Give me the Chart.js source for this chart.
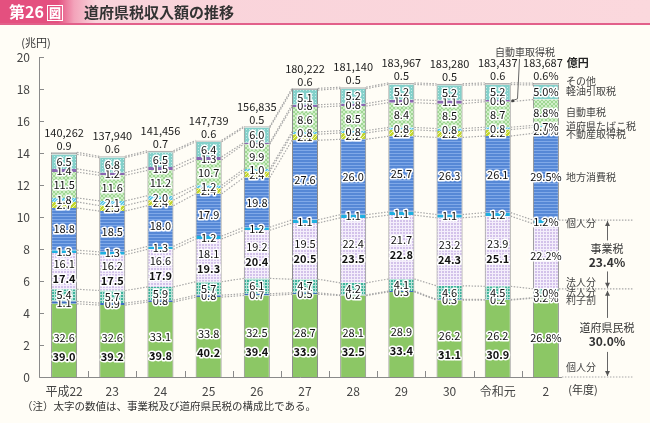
<!DOCTYPE html>
<html>
<head>
<meta charset="utf-8">
<script src="https://cdn.jsdelivr.net/npm/chart.js@4/dist/chart.umd.min.js"></script>
<style>
  html, body { margin: 0; padding: 0; background: #fffdf6; }
  body { width: 650px; height: 423px; position: relative; overflow: hidden; font-family: "Noto Sans CJK JP", sans-serif; }
  #hdr { position: absolute; left: 0; top: 0; width: 650px; height: 23px; z-index: 2;
    background: linear-gradient(to right, #e4507f 0, #e4507f 58px, #f3a3ba 74px, #f9d3da 96px, #fbd8dd 100%);
    border-bottom: 2px solid #e2608a; }
  #fig { position: absolute; left: 9px; top: 0; line-height: 23px; color: #fff; font-weight: bold; font-size: 16px; }
  #fig b { border: 1px solid #fff; padding: 0 1px; font-size: 12px; margin-left: 3px; line-height: 14px; display: inline-block; }
  #ttl { position: absolute; left: 84px; top: 0; line-height: 23px; color: #333; font-weight: bold; font-size: 15px; }
  #wrap { position: absolute; left: 0; top: 0; width: 650px; height: 423px; }
</style>
</head>
<body>
<div id="hdr"><span id="fig">第26<b>図</b></span><span id="ttl">道府県税収入額の推移</span></div>
<div id="wrap"><canvas id="c" width="650" height="423"></canvas></div>
<script>
// 年度と歳入総額（億円）
const years = ['平成22', '23', '24', '25', '26', '27', '28', '29', '30', '令和元', '2'];
const totals = [140262, 137940, 141456, 147739, 156835, 180222, 181140, 183967, 183280, 183437, 183687];

// 構成比（％）下から順に
const kenminKojin = [32.6, 32.6, 33.1, 33.8, 32.5, 28.7, 28.1, 28.9, 26.2, 26.2, 26.8];
const rishiwari = [1.1, 0.9, 0.8, 0.8, 0.7, 0.5, 0.2, 0.3, 0.3, 0.2, 0.2];
const kenminHojin = [5.4, 5.7, 5.9, 5.7, 6.1, 4.7, 4.2, 4.1, 4.6, 4.5, 3.0];
const jigyoHojin = [16.1, 16.2, 16.6, 18.1, 19.2, 19.5, 22.4, 21.7, 23.2, 23.9, 22.2];
const jigyoKojin = [1.3, 1.3, 1.3, 1.2, 1.2, 1.1, 1.1, 1.1, 1.1, 1.2, 1.2];
const chihoShohi = [18.8, 18.5, 18.0, 17.9, 19.8, 27.6, 26.0, 25.7, 26.3, 26.1, 29.5];
const fudosan = [2.7, 2.5, 2.4, 2.4, 2.4, 2.1, 2.2, 2.2, 2.2, 2.2, 2.0];
const tabako = [1.8, 2.1, 2.0, 1.2, 1.0, 0.8, 0.8, 0.8, 0.8, 0.8, 0.7];
const jidoshaZei = [11.5, 11.6, 11.2, 10.7, 9.9, 8.6, 8.5, 8.4, 8.5, 8.7, 8.8];
const jidoshaShutoku = [1.4, 1.2, 1.5, 1.3, 0.6, 0.8, 0.8, 1.0, 1.1, 0.6, null];
const keiyu = [6.5, 6.8, 6.5, 6.4, 6.0, 5.1, 5.2, 5.2, 5.2, 5.2, 5.0];
const sonota = [0.9, 0.6, 0.7, 0.6, 0.5, 0.6, 0.5, 0.5, 0.5, 0.6, 0.6];

// 太字（道府県民税・事業税の構成比）
const kenminTotal = [39.0, 39.2, 39.8, 40.2, 39.4, 33.9, 32.5, 33.4, 31.1, 30.9, 30.0];
const jigyoTotal = [17.4, 17.5, 17.9, 19.3, 20.4, 20.5, 23.5, 22.8, 24.3, 25.1, 23.4];

const yTicks = [0, 2, 4, 6, 8, 10, 12, 14, 16, 18, 20];

const FONT = '"Noto Sans CJK JP", sans-serif';
const last = years.length - 1;

// 構成比 → 兆円
const toCho = arr => arr.map((p, i) => p == null ? null : p * totals[i] / 1e6);

function pat(bg, fg, size, draw) {
  const c = document.createElement('canvas');
  c.width = c.height = size;
  const g = c.getContext('2d');
  g.fillStyle = bg; g.fillRect(0, 0, size, size);
  g.fillStyle = fg; g.strokeStyle = fg; g.lineWidth = 1;
  draw(g, size);
  return g.createPattern(c, 'repeat');
}
const hLines = (g, s) => g.fillRect(0, 0, s, 1);
const grid = (g, s) => { g.fillRect(0, 0, s, 1); g.fillRect(0, 0, 1, s); };
const diag = (g, s) => { for (let k = 0; k < s; k++) g.fillRect(k, s - 1 - k, 1, 1); };
const cross = (g, s) => { for (let k = 0; k < s; k++) { g.fillRect(k, k, 1, 1); g.fillRect(k, s - 1 - k, 1, 1); } };
const dots = (g, s) => g.fillRect(0, 0, 1, 1);

const series = [
  { label: '道府県民税 個人分', data: kenminKojin, bg: '#8cc765' },
  { label: '利子割', data: rishiwari, bg: '#3b6fc0' },
  { label: '道府県民税 法人分', data: kenminHojin, bg: pat('#3fb29b', '#b8e5d9', 3, grid) },
  { label: '事業税 法人分', data: jigyoHojin, bg: pat('#d3c2ea', '#f4eefb', 3, grid) },
  { label: '事業税 個人分', data: jigyoKojin, bg: '#1eafe0' },
  { label: '地方消費税', data: chihoShohi, bg: pat('#5688d6', '#80a9e8', 3, hLines) },
  { label: '不動産取得税', data: fudosan, bg: pat('#c2d62c', '#eef4b4', 4, diag) },
  { label: '道府県たばこ税', data: tabako, bg: pat('#5cc8ea', '#bfe9f7', 3, diag) },
  { label: '自動車税', data: jidoshaZei, bg: pat('#a0d794', '#d0efc8', 4, cross) },
  { label: '自動車取得税', data: jidoshaShutoku, bg: '#8a67b2' },
  { label: '軽油引取税', data: keiyu, bg: pat('#83d0ca', '#c4ece7', 3, dots) },
  { label: 'その他', data: sonota, bg: '#b3b3b3' }
];

function outlined(ctx, text, x, y, bold) {
  ctx.font = (bold ? 'bold ' : '') + '11px ' + FONT;
  ctx.lineWidth = 3;
  ctx.strokeStyle = '#ffffff';
  ctx.lineJoin = 'round';
  ctx.strokeText(text, x, y);
  ctx.fillStyle = '#111';
  ctx.fillText(text, x, y);
}

function arrowHead(ctx, x, y, dir) {
  ctx.beginPath();
  ctx.moveTo(x, y);
  ctx.lineTo(x - 2.5, y - dir * 5);
  ctx.lineTo(x + 2.5, y - dir * 5);
  ctx.closePath();
  ctx.fill();
}

const decor = {
  id: 'decor',
  beforeDatasetsDraw(chart) {
    const { ctx, chartArea: a, scales: { x, y } } = chart;
    ctx.save();
    // 接続点線
    ctx.strokeStyle = '#a8a8a8';
    ctx.lineWidth = 1.2;
    ctx.setLineDash([1.5, 1.5]);
    chart.data.datasets.forEach((ds, d) => {
      const bars = chart.getDatasetMeta(d).data;
      for (let i = 0; i < last; i++) {
        if (ds.data[i] == null || ds.data[i + 1] == null) continue;
        const b0 = bars[i], b1 = bars[i + 1];
        ctx.beginPath();
        ctx.moveTo(b0.x + b0.width / 2, b0.y);
        ctx.lineTo(b1.x - b1.width / 2, b1.y);
        ctx.stroke();
      }
    });
    // 右側の補助点線
    const lb = chart.getDatasetMeta(0).data[last];
    const right = lb.x + lb.width / 2;
    const y0 = y.getPixelForValue(0);
    [chart.getDatasetMeta(4).data[last].y, chart.getDatasetMeta(2).data[last].y, y0].forEach(py => {
      ctx.beginPath();
      ctx.moveTo(py === y0 ? right + 3 : right, py);
      ctx.lineTo(633, py);
      ctx.stroke();
    });
    ctx.setLineDash([]);
    // 軸
    ctx.strokeStyle = '#8a8a8a';
    ctx.lineWidth = 1;
    ctx.beginPath();
    ctx.moveTo(a.left - 0.5, y.getPixelForValue(20));
    ctx.lineTo(a.left - 0.5, y0 + 0.5);
    ctx.lineTo(right + 3, y0 + 0.5);
    ctx.stroke();
    yTicks.forEach(t => {
      const py = Math.round(y.getPixelForValue(t)) + 0.5;
      ctx.beginPath();
      ctx.moveTo(a.left - 0.5, py);
      ctx.lineTo(a.left + 4, py);
      ctx.stroke();
    });
    const step = (a.right - a.left) / years.length;
    for (let i = 1; i < years.length; i++) {
      const px = Math.round(a.left + step * i) + 0.5;
      ctx.beginPath();
      ctx.moveTo(px, y0);
      ctx.lineTo(px, y0 - 6);
      ctx.stroke();
    }
    ctx.restore();
  },
  afterDatasetsDraw(chart) {
    const { ctx, scales: { x, y } } = chart;
    ctx.save();
    ctx.textAlign = 'center';
    ctx.textBaseline = 'middle';
    const metas = chart.data.datasets.map((_, d) => chart.getDatasetMeta(d).data);
    for (let i = 0; i <= last; i++) {
      const sfx = i === last ? '%' : '';
      series.forEach((s, d) => {
        const v = s.data[i];
        if (v == null || d === series.length - 1) return;
        const b = metas[d][i];
        const cy = (b.y + b.base) / 2;
        const txt = v.toFixed(1) + sfx;
        if (d === 0) {
          if (i === last) { outlined(ctx, txt, b.x, cy); }
          else { outlined(ctx, txt, b.x, cy - 3); outlined(ctx, kenminTotal[i].toFixed(1), b.x, cy + 16, true); }
        } else if (d === 3) {
          if (i === last) { outlined(ctx, txt, b.x, cy); }
          else { outlined(ctx, txt, b.x, cy - 7); outlined(ctx, jigyoTotal[i].toFixed(1), b.x, cy + 8, true); }
        } else {
          outlined(ctx, txt, b.x, cy);
        }
      });
      // 上部ラベル
      const top = metas[series.length - 1][i];
      ctx.fillStyle = '#222';
      ctx.font = '11px ' + FONT;
      ctx.fillText(sonota[i].toFixed(1) + sfx, top.x, top.y - 7);
      const tot = totals[i].toLocaleString('en-US');
      if (i === last) {
        const tw = ctx.measureText(tot).width;
        ctx.fillText(tot, top.x - 3, top.y - 20);
        ctx.textAlign = 'left';
        ctx.font = 'bold 11px ' + FONT;
        ctx.fillText('億円', top.x - 3 + tw / 2 + 4, top.y - 20);
        ctx.textAlign = 'center';
      } else {
        ctx.fillText(tot, top.x, top.y - 20);
      }
    }

    // 右側の注記
    ctx.fillStyle = '#444';
    ctx.font = '10px ' + FONT;
    ctx.textAlign = 'left';
    [['その他', 81], ['軽油引取税', 91], ['自動車税', 112], ['道府県たばこ税', 126], ['不動産取得税', 134],
     ['地方消費税', 177], ['個人分', 223], ['法人分', 282], ['法人分', 292], ['利子割', 300], ['個人分', 367]]
      .forEach(([t, py]) => ctx.fillText(t, 566, py));

    const ax = 607;
    const yA = metas[4][last].y, yB = metas[2][last].y, yC = y.getPixelForValue(0);
    const m1 = (yA + yB) / 2, m2 = (yB + yC) / 2;
    ctx.textAlign = 'center';
    ctx.fillStyle = '#333';
    ctx.font = '11px ' + FONT;
    ctx.fillText('事業税', ax, m1 - 6);
    ctx.fillText('道府県民税', ax, m2 - 5);
    ctx.font = 'bold 12px ' + FONT;
    ctx.fillText(jigyoTotal[last].toFixed(1) + '%', ax, m1 + 8);
    ctx.fillText(kenminTotal[last].toFixed(1) + '%', ax, m2 + 9);

    ctx.strokeStyle = '#666';
    ctx.fillStyle = '#555';
    ctx.lineWidth = 1;
    [[yA + 1, m1 - 14], [m1 + 17, yB - 1], [yB + 2, m2 - 15], [m2 + 19, yC - 1]].forEach(([p, q]) => {
      ctx.beginPath();
      ctx.moveTo(ax + 0.5, p);
      ctx.lineTo(ax + 0.5, q);
      ctx.stroke();
    });
    arrowHead(ctx, ax + 0.5, yA + 1, -1);
    arrowHead(ctx, ax + 0.5, yB - 1, 1);
    arrowHead(ctx, ax + 0.5, yB + 2, -1);
    arrowHead(ctx, ax + 0.5, yC - 1, 1);

    // 自動車取得税の引出線
    const sb = metas[9][last - 1];
    const sy = (sb.y + sb.base) / 2;
    ctx.fillStyle = '#444';
    ctx.font = '10px ' + FONT;
    ctx.fillText('自動車取得税', 525, 52);
    ctx.beginPath();
    ctx.moveTo(519.5, 59);
    ctx.lineTo(517.5, sy - 2);
    ctx.lineTo(sb.x + sb.width / 2 + 1, sy);
    ctx.stroke();
    ctx.beginPath();
    ctx.arc(sb.x + sb.width / 2 + 2, sy, 1.5, 0, Math.PI * 2);
    ctx.fill();

    // 単位・注記
    ctx.fillStyle = '#333';
    ctx.font = '11px ' + FONT;
    ctx.fillText('(兆円)', 36, 43);
    ctx.fillText('(年度)', 583, 390);
    ctx.textAlign = 'left';
    ctx.font = '10.5px ' + FONT;
    ctx.fillText('（注）太字の数値は、事業税及び道府県民税の構成比である。', 22, 406);
    ctx.restore();
  }
};

new Chart(document.getElementById('c'), {
  type: 'bar',
  data: {
    labels: years,
    datasets: series.map(s => ({
      label: s.label,
      data: toCho(s.data),
      backgroundColor: s.bg,
      borderColor: '#8d8d8d',
      borderWidth: { left: 1, right: 1, top: 0, bottom: 0 },
      borderSkipped: false,
      categoryPercentage: 1,
      barPercentage: 0.54
    }))
  },
  options: {
    responsive: false,
    animation: false,
    devicePixelRatio: 1,
    layout: { padding: { top: 57, right: 80, bottom: 24, left: 0 } },
    plugins: { legend: { display: false }, tooltip: { enabled: false } },
    scales: {
      x: {
        stacked: true,
        grid: { display: false, drawTicks: false },
        border: { display: false },
        ticks: { color: '#444', font: { family: FONT, size: 12 }, padding: 7 },
        afterFit: s => { s.height = 22; }
      },
      y: {
        stacked: true,
        min: 0, max: 20,
        afterBuildTicks: s => { s.ticks = yTicks.map(v => ({ value: v })); },
        grid: { display: false, drawTicks: false },
        border: { display: false },
        ticks: { color: '#444', font: { family: FONT, size: 12 }, padding: 10 },
        afterFit: s => { s.width = 40; }
      }
    }
  },
  plugins: [decor]
});
</script>
</body>
</html>
